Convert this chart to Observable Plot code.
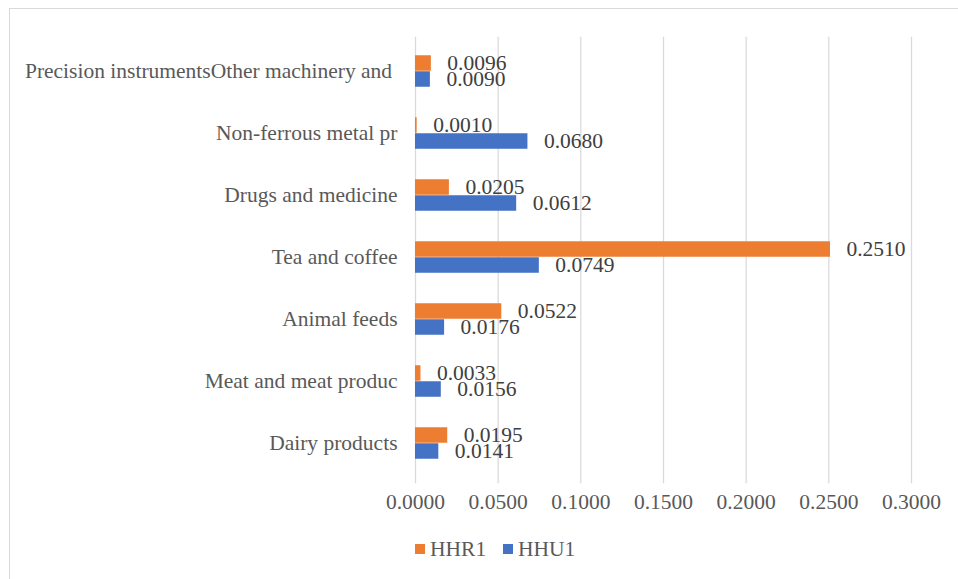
<!DOCTYPE html>
<html>
<head>
<meta charset="utf-8">
<script src="https://cdn.jsdelivr.net/npm/d3@7"></script>
<script src="https://cdn.jsdelivr.net/npm/@observablehq/plot@0.6"></script>
<style>
  html, body { margin: 0; padding: 0; background: #fff; }
  #wrap { position: relative; width: 958px; height: 579px; overflow: hidden; font-family: "Liberation Serif", "Times New Roman", serif; }
  #frame { position: absolute; left: 9px; top: 8px; right: -5px; bottom: -5px; border-top: 1.5px solid #d9d9d9; border-left: 1.5px solid #d9d9d9; }
  #chart { position: absolute; left: 0; top: 0; }
  #legend { position: absolute; top: 537px; left: 0; width: 958px; height: 24px; }
  .key { position: absolute; top: 0; display: flex; align-items: center; height: 24px; font-size: 21.5px; color: #595959; }
  .sw { width: 10px; height: 10px; margin-right: 5px; }
</style>
</head>
<body>
<div id="wrap">
  <div id="frame"></div>
  <div id="chart"></div>
  <div id="legend"></div>
</div>
<script>
// Product categories, listed top to bottom
const categories = [
  "Precision instrumentsOther machinery and\u00a0",
  "Non-ferrous metal pr",
  "Drugs and medicine",
  "Tea and coffee",
  "Animal feeds",
  "Meat and meat produc",
  "Dairy products"
];
const seriesNames = ["HHR1", "HHU1"];
const hhr1 = [0.0096, 0.0010, 0.0205, 0.2510, 0.0522, 0.0033, 0.0195];
const hhu1 = [0.0090, 0.0680, 0.0612, 0.0749, 0.0176, 0.0156, 0.0141];
const xTicks = [0, 0.05, 0.10, 0.15, 0.20, 0.25, 0.30];
const colors = {HHR1: "#ED7D31", HHU1: "#4472C4"};

const rowsR = categories.map((c, i) => ({category: c, series: "HHR1", value: hhr1[i]}));
const rowsU = categories.map((c, i) => ({category: c, series: "HHU1", value: hhu1[i]}));

const font = "'Liberation Serif', 'Times New Roman', serif";
const half = 31.25; // half of each category band
const barH = 16;

const chart = Plot.plot({
  width: 958,
  height: 525,
  marginLeft: 415,
  marginRight: 47,
  marginTop: 37.75,
  marginBottom: 49.75,
  style: {fontFamily: font, fontSize: "21.5px", color: "#595959", background: "transparent", overflow: "visible"},
  x: {domain: [0, 0.3], ticks: xTicks, tickFormat: d => d.toFixed(4), tickSize: 0, tickPadding: 18, label: null},
  y: {domain: categories, paddingInner: 0, paddingOuter: 0, tickSize: 0, tickPadding: 18, label: null},
  marks: [
    Plot.ruleX(xTicks, {stroke: "#d9d9d9", strokeWidth: 1.25, insetTop: -1, insetBottom: -8}),
    Plot.barX(rowsR, {x: "value", y: "category", fill: colors.HHR1, insetTop: half - barH, insetBottom: half}),
    Plot.barX(rowsU, {x: "value", y: "category", fill: colors.HHU1, insetTop: half, insetBottom: half - barH}),
    Plot.text(rowsR, {x: "value", y: "category", text: d => d.value.toFixed(4), textAnchor: "start", dx: 16, dy: -8, fill: "#404040", fontSize: 21.5}),
    Plot.text(rowsU, {x: "value", y: "category", text: d => d.value.toFixed(4), textAnchor: "start", dx: 16, dy: 8, fill: "#404040", fontSize: 21.5})
  ]
});
document.getElementById("chart").appendChild(chart);

// Legend below the plot
const legend = document.getElementById("legend");
const keyX = [415, 503];
seriesNames.forEach((s, i) => {
  const k = document.createElement("div");
  k.className = "key";
  k.style.left = keyX[i] + "px";
  const sw = document.createElement("span");
  sw.className = "sw";
  sw.style.background = colors[s];
  const t = document.createElement("span");
  t.textContent = s;
  k.appendChild(sw);
  k.appendChild(t);
  legend.appendChild(k);
});
</script>
</body>
</html>
